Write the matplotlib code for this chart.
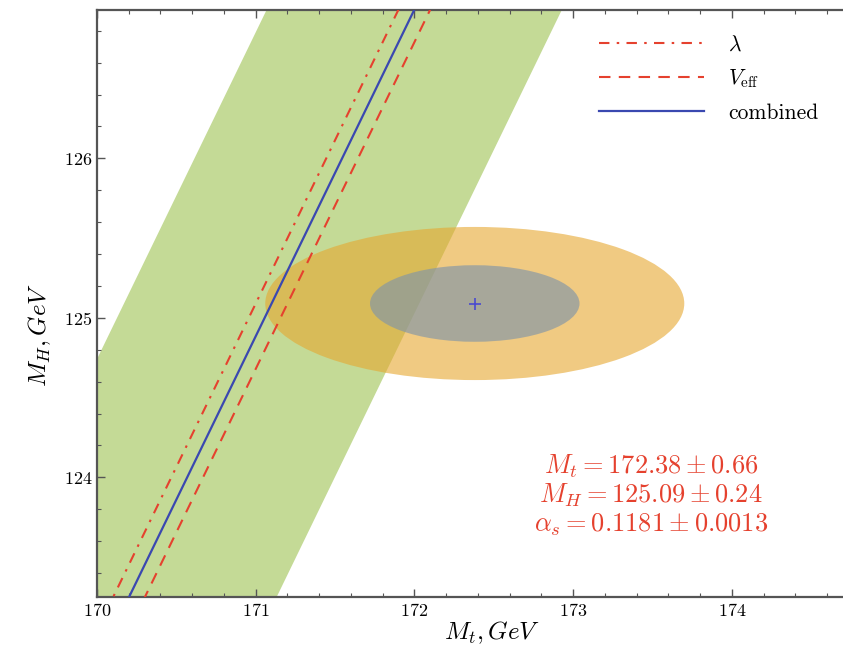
import matplotlib
matplotlib.use('Agg')
import matplotlib.pyplot as plt
from matplotlib.patches import Ellipse
from matplotlib.ticker import MultipleLocator

plt.rcParams['font.family'] = 'serif'
plt.rcParams['font.serif'] = ['cmr10', 'DejaVu Serif']
plt.rcParams['mathtext.fontset'] = 'cm'
plt.rcParams['axes.formatter.use_mathtext'] = True

# fit results
mt_c, mt_err = 172.38, 0.66
mh_c, mh_err = 125.09, 0.24

# lines: M_t at the two ends of the M_H range
mh_ends = [123.0, 127.2]
mt_lambda = [169.98, 172.03]
mt_veff = [170.18, 172.23]
mt_combined = [170.08, 172.13]
band_left = [169.15, 171.20]
band_right = [171.01, 173.06]

fig = plt.figure(figsize=(8.43, 6.51), dpi=100)
ax = fig.add_axes([97/843, 1-597/651, 1-97/843, (597-10)/651])

# green band
ax.fill(band_left + band_right[::-1], mh_ends + mh_ends[::-1],
        color=(0.77, 0.855, 0.59), lw=0, zorder=1)

# error ellipses
ax.add_patch(Ellipse((mt_c, mh_c), 4*mt_err, 4*mh_err,
                     color=(230/255, 167/255, 47/255), alpha=0.6, lw=0, zorder=2))
ax.add_patch(Ellipse((mt_c, mh_c), 2*mt_err, 2*mh_err,
                     color=(129/255, 149/255, 168/255), alpha=0.65, lw=0, zorder=3))

red = '#e5412e'
ax.plot(mt_lambda, mh_ends, color=red, ls=(0, (5, 3.5, 1.2, 3.5)), lw=1.5, label=r'$\lambda$', zorder=4)
ax.plot(mt_veff, mh_ends, color=red, ls=(0, (5.5, 4)), lw=1.5, label=r'$V_{\rm eff}$', zorder=4)
ax.plot(mt_combined, mh_ends, color='#3a48b0', lw=1.6, label='combined', zorder=5)
ax.plot([mt_c], [mh_c], marker='+', color='#4a4ad0', ms=8, mew=1.2, zorder=6)

ax.set_xlim(170, 174.7)
ax.set_ylim(123.25, 126.93)
ax.xaxis.set_major_locator(MultipleLocator(1))
ax.xaxis.set_minor_locator(MultipleLocator(0.2))
ax.yaxis.set_major_locator(MultipleLocator(1))
ax.yaxis.set_minor_locator(MultipleLocator(0.2))
ax.tick_params(which='both', direction='in', top=True, right=False,
               color='#555555', labelsize=13)
ax.tick_params(which='major', length=6, width=1)
ax.tick_params(which='minor', length=3, width=0.8)
ax.spines['right'].set_visible(False)
for s in ['left', 'bottom', 'top']:
    ax.spines[s].set_color('#555555')
    ax.spines[s].set_linewidth(1.6)

fig.text(492/843, 1-633/651, r'$M_t, GeV$', fontsize=18, ha='center', va='center')
fig.text(40/843, 1-335/651, r'$M_H, GeV$', fontsize=18, ha='center', va='center', rotation=90)

ax.legend(loc='upper right', bbox_to_anchor=(0.993, 0.99), frameon=False, fontsize=15.5,
          handlelength=4.9, handletextpad=1.1, labelspacing=0.6)

ax.text(172.38 + 0.66 + 0.45, 123.62,
        '$M_t = 172.38 \\pm 0.66$\n$M_H = 125.09 \\pm 0.24$\n$\\alpha_s = 0.1181 \\pm 0.0013$',
        color=red, fontsize=19, ha='center', va='bottom', linespacing=1.1, zorder=7)

fig.savefig('out.png', dpi=100)
